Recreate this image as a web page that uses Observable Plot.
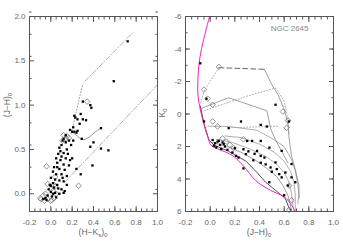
<!DOCTYPE html>
<html><head><meta charset="utf-8">
<script src="https://cdn.jsdelivr.net/npm/d3@7"></script>
<script src="https://cdn.jsdelivr.net/npm/@observablehq/plot@0.6"></script>
<style>
html,body{margin:0;padding:0;background:#fff;}
#wrap{position:relative;width:343px;height:243px;overflow:hidden;background:#fff;}
#wrap svg{position:absolute;top:0;}
</style></head><body><div id="wrap"></div>
<script>
// ---------- LEFT PANEL: (J-H)0 vs (H-Ks)0 ----------
const ccdFilled = [[0.72,1.72],[0.59,1.27],[0.30,1.04],[0.37,1.00],[0.38,0.97],[0.28,0.90],[0.30,0.84],[0.22,0.88],[0.23,0.86],[0.25,0.84],[0.33,0.83],[0.27,0.79],[0.21,0.75],[0.18,0.72],[0.20,0.70],[0.22,0.70],[0.24,0.69],[0.25,0.71],[0.47,0.74],[0.14,0.66],[0.12,0.62],[0.17,0.60],[0.29,0.62],[0.40,0.58],[0.37,0.53],[0.47,0.51],[0.10,0.55],[0.08,0.52],[0.15,0.50],[0.12,0.46],[0.54,0.49],[0.07,0.45],[0.10,0.42],[0.14,0.40],[0.18,0.38],[0.09,0.38],[0.06,0.35],[0.12,0.33],[0.17,0.32],[0.39,0.32],[0.03,0.30],[0.08,0.28],[0.13,0.27],[0.24,0.28],[0.02,0.25],[0.05,0.22],[0.10,0.22],[0.28,0.22],[0.15,0.20],[0.00,0.18],[0.04,0.16],[0.08,0.15],[0.12,0.14],[0.02,0.12],[0.06,0.10],[0.00,0.09],[0.03,0.07],[0.07,0.06],[0.10,0.05],[0.13,0.03],[-0.02,0.05],[0.00,0.02],[0.04,0.01],[0.08,0.00],[0.12,0.01],[-0.03,-0.02],[0.01,-0.03],[-0.05,-0.05],[-0.07,-0.06],[-0.04,-0.07],[0.05,-0.04],[0.02,0.00],[-0.01,0.10],[0.06,0.30],[0.11,0.60],[0.16,0.45],[0.20,0.40],[0.19,0.55],[0.14,0.58],[0.21,0.60],[0.09,0.48],[0.05,0.40],[0.11,0.18],[0.15,0.10]];
const ccdOpen = [[0.34,1.04],[0.12,0.66],[0.15,0.65],[0.14,0.62],[0.11,0.60],[0.17,0.63],[-0.04,0.31],[0.04,0.19],[0.26,0.09],[-0.03,0.11],[-0.05,0.00],[0.03,0.10],[0.00,0.05],[0.02,0.03],[-0.07,-0.02],[-0.09,-0.06],[-0.06,-0.08],[-0.03,-0.06],[0.01,-0.07],[0.03,-0.05],[0.05,0.00],[0.04,0.08],[-0.10,-0.05],[0.00,-0.08]];
const ccdGiantDotted = [[0.19,0.68],[0.30,1.24]];
const ccdUpperRed = [[0.32,1.27],[0.77,1.82]];
const ccdLowerRed = [[0.13,0.13],[1.00,1.23]];
const ccdDwarfM = [[0.20,0.70],[0.25,0.65],[0.30,0.61],[0.36,0.64],[0.42,0.70],[0.47,0.74]];

// ---------- RIGHT PANEL: K0 vs (J-H)0 ----------
const cmdFilled = [[-0.08,-3.12],[-0.03,-0.94],[0.53,-0.57],[0.64,0.46],[0.25,0.46],[0.15,0.87],[-0.05,0.46],[0.46,0.77],[0.41,0.67],[0.02,1.6],[0.04,1.8],[0.06,1.7],[0.08,1.9],[0.10,1.75],[0.12,2.0],[0.05,2.05],[0.09,2.15],[0.03,1.95],[0.07,1.65],[0.11,1.85],[0.30,1.66],[0.34,1.66],[0.41,1.66],[0.48,2.07],[0.58,2.27],[0.27,2.17],[0.29,2.47],[0.38,2.27],[0.41,2.58],[0.44,2.68],[0.53,2.98],[0.49,3.29],[0.54,3.39],[0.58,3.90],[0.61,3.60],[0.66,3.08],[0.66,3.90],[0.69,4.20],[0.48,4.20],[0.21,2.58],[0.23,2.68],[0.18,2.37],[0.35,2.85],[0.45,3.10],[0.36,2.45],[0.31,2.30],[0.50,3.55],[0.56,3.70],[0.63,4.40],[0.27,3.35],[0.41,3.00],[0.14,2.20],[0.20,2.10],[0.60,5.0]];
const cmdOpen = [[0.07,-2.90],[-0.05,-1.50],[-0.02,-0.94],[0.02,-0.57],[0.59,-0.15],[0.63,0.40],[0.62,0.85],[0.02,0.46],[0.06,0.77],[0.10,1.50],[0.16,1.90],[0.27,1.56],[0.19,2.10],[0.13,1.70],[0.64,4.40],[0.64,5.90],[0.66,5.30]];
const zams = [[-0.005,-6],[-0.06,-4.35],[-0.09,-3.1],[-0.10,-1.3],[-0.085,-0.45],[-0.05,0.65],[-0.02,1.4],[0.01,1.95],[0.08,2.2],[0.18,2.55],[0.27,3.2],[0.37,4.1],[0.49,4.7],[0.60,5.1],[0.65,5.5],[0.69,6]];
const isoBlack = [[-0.08,-0.5],[-0.05,0.6],[-0.01,1.6],[0.03,1.9],[0.15,2.3],[0.29,2.9],[0.38,3.6],[0.45,4.2],[0.53,4.7],[0.61,5.2],[0.64,5.8],[0.66,6.0]];
const iso1 = [[0.02,1.75],[0.12,1.95],[0.25,2.35],[0.37,2.85],[0.46,3.35],[0.54,3.85],[0.59,4.4],[0.63,5.0],[0.65,5.6],[0.66,6.0]];
const iso2 = [[0.05,1.55],[0.18,1.75],[0.32,2.15],[0.45,2.6],[0.54,3.1],[0.60,3.6],[0.64,4.2],[0.66,4.9],[0.67,5.6],[0.68,6.0]];
const iso3 = [[0.12,1.35],[0.25,1.45],[0.40,1.85],[0.52,2.35],[0.60,2.9],[0.65,3.5],[0.68,4.2],[0.69,5.0],[0.69,6.0]];
const iso4 = [[-0.02,0.75],[0.15,0.77],[0.38,1.0],[0.50,1.5],[0.60,2.0],[0.66,2.8],[0.69,3.5],[0.71,4.3],[0.72,5.0],[0.71,5.5]];
const iso5 = [[-0.07,-0.35],[0.15,-1.0],[0.46,-0.2],[0.49,0.9],[0.53,1.6],[0.58,2.3],[0.63,3.0]];
const iso6 = [[0.44,-2.75],[0.50,-1.8],[0.55,-1.2],[0.60,-0.3],[0.63,0.6],[0.64,1.5],[0.66,2.6],[0.69,3.4],[0.72,4.4],[0.72,5.2]];
const dashTop = [[0.07,-2.85],[0.44,-2.75]];
const dotC = [[0.07,-2.85],[0.0,-2.0],[-0.05,-1.4],[-0.08,-0.6]];
const dotE = [[-0.05,-0.2],[0.29,-1.08],[0.53,-1.6],[0.60,-0.8],[0.63,0.3],[0.64,1.2]];
const dotF = [[0.15,0.85],[0.35,0.8],[0.55,0.75]];

const ccdXMajor = [-0.2,0,0.2,0.4,0.6,0.8,1.0];
const ccdYMajor = [0,0.5,1.0,1.5,2.0];
const cmdXMajor = [-0.2,0,0.2,0.4,0.6,0.8,1.0];
const cmdYMajor = [-6,-4,-2,0,2,4,6];

const range = (a,b,s) => d3.range(Math.round((b-a)/s)+1).map(i => +(a+i*s).toFixed(3));
const axisCol = "#555";
function frameAxes(xMaj, xMin, yMaj, yMin, fx, fy) {
  const none = () => "";
  return [
    Plot.axisX(xMaj, {anchor:"bottom", tickSize:-5, tickPadding:13, tickFormat:fx, label:null, stroke:axisCol, fill:"#666"}),
    Plot.axisX(xMin, {anchor:"bottom", tickSize:-2.5, tickFormat:none, label:null, stroke:axisCol}),
    Plot.axisX(xMaj, {anchor:"top", tickSize:-5, tickFormat:none, label:null, stroke:axisCol}),
    Plot.axisX(xMin, {anchor:"top", tickSize:-2.5, tickFormat:none, label:null, stroke:axisCol}),
    Plot.axisY(yMaj, {anchor:"left", tickSize:-5, tickPadding:9, tickFormat:fy, label:null, stroke:axisCol, fill:"#666"}),
    Plot.axisY(yMin, {anchor:"left", tickSize:-2.5, tickFormat:none, label:null, stroke:axisCol}),
    Plot.axisY(yMaj, {anchor:"right", tickSize:-5, tickFormat:none, label:null, stroke:axisCol}),
    Plot.axisY(yMin, {anchor:"right", tickSize:-2.5, tickFormat:none, label:null, stroke:axisCol}),
    Plot.frame({stroke:axisCol})
  ];
}
const font = {fontFamily:"'Liberation Sans', 'DejaVu Sans', sans-serif", fontSize:"8px", background:"transparent", color:axisCol};

const left = Plot.plot({
  width:165, height:243, marginLeft:29, marginRight:8, marginTop:16, marginBottom:32,
  x:{domain:[-0.2,1.0], label:null}, y:{domain:[-0.2,2.0], label:null},
  style:font,
  marks:[
    Plot.line(ccdGiantDotted, {x:d=>d[0], y:d=>d[1], stroke:"#888", strokeWidth:0.8, strokeDasharray:"1,2", clip:true}),
    Plot.line(ccdUpperRed, {x:d=>d[0], y:d=>d[1], stroke:"#999", strokeWidth:0.8, strokeDasharray:"5,2,1,2", clip:true}),
    Plot.line(ccdLowerRed, {x:d=>d[0], y:d=>d[1], stroke:"#999", strokeWidth:0.8, strokeDasharray:"5,2,1,2", clip:true}),
    Plot.line(ccdDwarfM, {x:d=>d[0], y:d=>d[1], stroke:"#888", strokeWidth:0.9, curve:"catmull-rom", clip:true}),
    Plot.dot(ccdOpen, {x:d=>d[0], y:d=>d[1], symbol:"diamond2", r:2.5, stroke:"#777", strokeWidth:0.8, fill:"none"}),
    Plot.dot(ccdFilled, {x:d=>d[0], y:d=>d[1], symbol:"square", r:1.3, fill:"#000"}),
    ...frameAxes(ccdXMajor, range(-0.2,1.0,0.05), ccdYMajor, range(-0.2,2.0,0.25), d=>d.toFixed(1), d=>d.toFixed(1))
  ]
});

const right = Plot.plot({
  width:188, height:243, marginLeft:30, marginRight:10, marginTop:16, marginBottom:32,
  x:{domain:[-0.2,1.0], label:null}, y:{domain:[-6,6], reverse:true, label:null},
  style:font,
  marks:[
    Plot.line(iso1, {x:d=>d[0], y:d=>d[1], stroke:"#888", strokeWidth:0.8, clip:true}),
    Plot.line(iso2, {x:d=>d[0], y:d=>d[1], stroke:"#999", strokeWidth:0.8, clip:true}),
    Plot.line(iso3, {x:d=>d[0], y:d=>d[1], stroke:"#999", strokeWidth:0.8, clip:true}),
    Plot.line(iso4, {x:d=>d[0], y:d=>d[1], stroke:"#999", strokeWidth:0.8, clip:true}),
    Plot.line(iso5, {x:d=>d[0], y:d=>d[1], stroke:"#888", strokeWidth:0.8, clip:true}),
    Plot.line(iso6, {x:d=>d[0], y:d=>d[1], stroke:"#888", strokeWidth:0.8, clip:true}),
    Plot.line(dotC, {x:d=>d[0], y:d=>d[1], stroke:"#999", strokeWidth:0.8, strokeDasharray:"1,2", clip:true}),
    Plot.line(dotE, {x:d=>d[0], y:d=>d[1], stroke:"#999", strokeWidth:0.8, strokeDasharray:"1,2", clip:true}),
    Plot.line(dotF, {x:d=>d[0], y:d=>d[1], stroke:"#999", strokeWidth:0.8, strokeDasharray:"1,2", clip:true}),
    Plot.line(dashTop, {x:d=>d[0], y:d=>d[1], stroke:"#555", strokeWidth:0.9, strokeDasharray:"5,3", clip:true}),
    Plot.line(isoBlack, {x:d=>d[0], y:d=>d[1], stroke:"#222", strokeWidth:0.8, clip:true}),
    Plot.line(zams, {x:d=>d[0], y:d=>d[1], stroke:"#f020c8", strokeWidth:1, curve:"catmull-rom", clip:true}),
    Plot.dot(cmdOpen, {x:d=>d[0], y:d=>d[1], symbol:"diamond2", r:2.5, stroke:"#777", strokeWidth:0.8, fill:"none"}),
    Plot.dot(cmdFilled, {x:d=>d[0], y:d=>d[1], symbol:"square", r:1.3, fill:"#000"}),
    Plot.text(["NGC 2645"], {frameAnchor:"top-right", dx:-25, dy:9, fill:"#888", fontSize:8}),
    ...frameAxes(cmdXMajor, range(-0.2,1.0,0.05), cmdYMajor, range(-6,6,1), d=>d.toFixed(1), d=>String(d))
  ]
});
left.style.left = "0px";
right.style.left = "155px";
const wrap = document.getElementById("wrap");
wrap.appendChild(left);
wrap.appendChild(right);

function subLabel(svg, x, y, parts, rotate) {
  const t = d3.select(svg).append("text")
    .attr("transform", `translate(${x},${y})` + (rotate ? " rotate(-90)" : ""))
    .attr("text-anchor", "middle").attr("fill", "#666")
    .attr("font-family", "'Liberation Sans', 'DejaVu Sans', sans-serif").attr("font-size", 8.5);
  let shifted = false;
  parts.forEach(([s, sub]) => {
    const dy = sub ? (shifted ? 0 : 2) : (shifted ? -2 : 0);
    shifted = !!sub;
    t.append("tspan").text(s).attr("font-size", sub ? 6 : 8.5).attr("dy", dy);
  });
}
subLabel(left, 93, 235, [["(H\u2212K",0],["s",1],[")",0],["0",1]], false);
subLabel(left, 10, 105, [["(J\u2212H)",0],["0",1]], true);
subLabel(right, 104, 235, [["(J\u2212H)",0],["0",1]], false);
subLabel(right, 10, 113, [["K",0],["0",1]], true);
</script></body></html>
